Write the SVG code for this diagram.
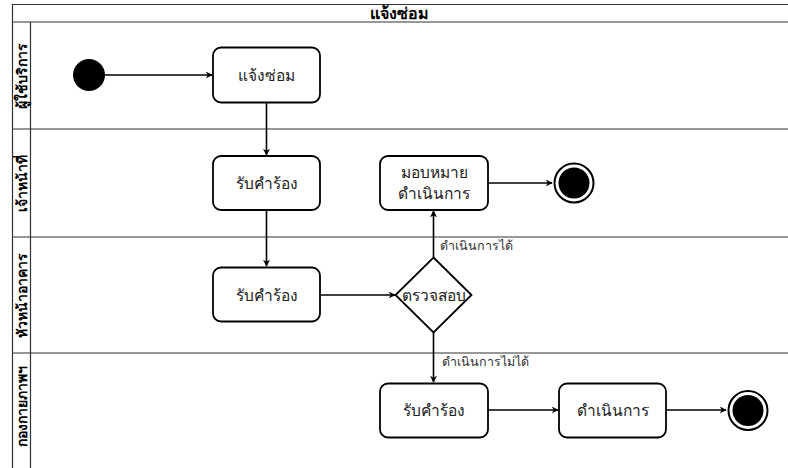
<svg xmlns="http://www.w3.org/2000/svg" width="788" height="468" viewBox="0 0 788 468">
<style>
  text { font-family: "Noto Sans", "DejaVu Sans", sans-serif; fill: #222; }
  .lane { fill: none; stroke: #333; stroke-width: 1.2; }
  .node { fill: #fff; stroke: #000; stroke-width: 1.8; }
  .lbl { font-size: 15.5px; text-anchor: middle; dominant-baseline: central; }
  .lane-lbl { font-size: 14px; font-weight: 600; fill: #000; text-anchor: middle; dominant-baseline: central; }
  .edge { fill: none; stroke: #000; stroke-width: 1.6; marker-end: url(#arr); }
  .elbl { font-size: 12.5px; fill: #333; }
</style>
<defs>
  <marker id="arr" viewBox="0 0 10 10" refX="9" refY="5" markerWidth="7" markerHeight="7" markerUnits="userSpaceOnUse" orient="auto">
    <path d="M0,0 L10,5 L0,10 L3,5 Z" fill="#000"/>
  </marker>
</defs>
<rect width="788" height="468" fill="#fff"/>
<g id="pool">
  <path class="lane" d="M790,4.5 H12.5 V470 M12.5,22 H790 M30.5,22 V470 M12.5,129 H790 M12.5,237 H790 M12.5,353 H790"/>
  <text x="399" y="13" style="font-size:16px;font-weight:bold;text-anchor:middle;dominant-baseline:central;fill:#000">แจ้งซ่อม</text>
  <text class="lane-lbl" transform="translate(21.5,76) rotate(-90)">ผู้ใช้บริการ</text>
  <text class="lane-lbl" transform="translate(21.5,183) rotate(-90)">เจ้าหน้าที่</text>
  <text class="lane-lbl" transform="translate(21.5,295) rotate(-90)">หัวหน้าอาคาร</text>
  <text class="lane-lbl" transform="translate(21.5,406) rotate(-90)">กองกายภาพฯ</text>
</g>
<g id="edges">
  <path class="edge" d="M105,75 L212,75"/>
  <path class="edge" d="M266.5,102.5 L266.5,155"/>
  <path class="edge" d="M266.5,210.5 L266.5,266"/>
  <path class="edge" d="M320.5,295 L395,295"/>
  <path class="edge" d="M433.5,257.5 L433.5,211"/>
  <path class="edge" d="M433.5,332.5 L433.5,382"/>
  <path class="edge" d="M488,183 L552,183"/>
  <path class="edge" d="M488,410 L558,410"/>
  <path class="edge" d="M666,410 L726,410"/>
  <text class="elbl" x="440" y="250">ดำเนินการได้</text>
  <text class="elbl" x="442" y="366">ดำเนินการไม่ได้</text>
</g>
<g id="start"><circle cx="89" cy="75" r="16" fill="#000"/></g>
<g id="n-report"><rect class="node" x="213" y="47.5" width="107" height="55" rx="8"/><text class="lbl" x="266.5" y="75">แจ้งซ่อม</text></g>
<g id="n-receive1"><rect class="node" x="213" y="156" width="107" height="54" rx="8"/><text class="lbl" x="266.5" y="183">รับคำร้อง</text></g>
<g id="n-receive2"><rect class="node" x="213" y="267.5" width="107" height="54" rx="8"/><text class="lbl" x="266.5" y="295">รับคำร้อง</text></g>
<g id="n-check"><path class="node" d="M433.5,257.5 L471.5,295 L433.5,332.5 L395.5,295 Z"/><text class="lbl" x="433.5" y="295">ตรวจสอบ</text></g>
<g id="n-assign"><rect class="node" x="380" y="156" width="108" height="54" rx="8"/><text class="lbl" x="434" y="172">มอบหมาย</text><text class="lbl" x="434" y="193">ดำเนินการ</text></g>
<g id="end1"><circle cx="574" cy="183" r="19.5" fill="#fff" stroke="#000" stroke-width="2"/><circle cx="574" cy="183" r="15.5" fill="#000"/></g>
<g id="n-receive3"><rect class="node" x="380" y="383.5" width="108" height="54" rx="8"/><text class="lbl" x="434" y="410">รับคำร้อง</text></g>
<g id="n-do"><rect class="node" x="559" y="383.5" width="107" height="54" rx="8"/><text class="lbl" x="612.5" y="410">ดำเนินการ</text></g>
<g id="end2"><circle cx="748" cy="410.5" r="19.5" fill="#fff" stroke="#000" stroke-width="2"/><circle cx="748" cy="410.5" r="15.5" fill="#000"/></g>
</svg>
